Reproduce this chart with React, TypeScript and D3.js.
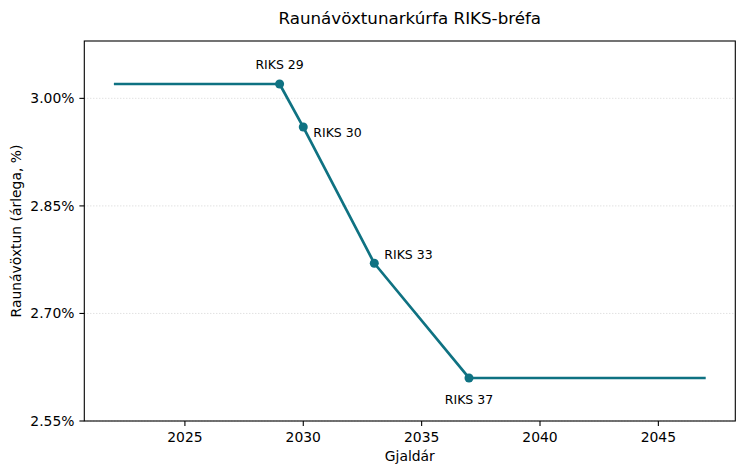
import React from "react";
import * as d3 from "d3";

const years = [2022, 2029, 2030, 2033, 2037, 2047];
const yields = [3.02, 3.02, 2.96, 2.77, 2.61, 2.61];
const bondYears = [2029, 2030, 2033, 2037];
const bondYields = [3.02, 2.96, 2.77, 2.61];
const bondLabels = ["RIKS 29", "RIKS 30", "RIKS 33", "RIKS 37"];
const xTicks = [2025, 2030, 2035, 2040, 2045];
const yTicks = [2.55, 2.7, 2.85, 3.0];

const labelOffsets: { dx: number; dy: number; anchor: string }[] = [
  { dx: 0, dy: -15, anchor: "middle" },
  { dx: 10, dy: 10, anchor: "start" },
  { dx: 10, dy: -4, anchor: "start" },
  { dx: 0, dy: 26, anchor: "middle" },
];

const W = 744;
const H = 475;
const L = 84.3;
const R = 735.3;
const T = 41;
const B = 421;
const COLOR = "#0f7282";
const FONT = "DejaVu Sans, sans-serif";

export default function App() {
  const xMin = d3.min(years)!;
  const xMax = d3.max(years)!;
  const pad = (xMax - xMin) * 0.05;
  const x = d3.scaleLinear().domain([xMin - pad, xMax + pad]).range([L, R]);
  const y = d3
    .scaleLinear()
    .domain([d3.min(yields)! - 0.06, d3.max(yields)! + 0.06])
    .range([B, T]);
  const line = d3
    .line<number>()
    .x((_, i) => x(years[i]))
    .y((d) => y(d));

  return (
    <svg
      width={W}
      height={H}
      style={{ position: "absolute", left: 0, top: 0, background: "#fff" }}
      fontFamily={FONT}
    >
      <rect x={0} y={0} width={W} height={H} fill="#fff" />
      {yTicks.map((t) => (
        <line
          key={"g" + t}
          x1={L}
          x2={R}
          y1={y(t)}
          y2={y(t)}
          stroke="#cccccc"
          strokeWidth={0.8}
          strokeDasharray="1,2"
        />
      ))}
      <path d={line(yields) || ""} fill="none" stroke={COLOR} strokeWidth={2.7} strokeLinejoin="round" />
      {bondYears.map((yr, i) => (
        <circle key={"c" + yr} cx={x(yr)} cy={y(bondYields[i])} r={4.5} fill={COLOR} />
      ))}
      {bondYears.map((yr, i) => (
        <text
          key={"l" + yr}
          x={x(yr) + labelOffsets[i].dx}
          y={y(bondYields[i]) + labelOffsets[i].dy}
          fontSize={12.5}
          textAnchor={labelOffsets[i].anchor}
          fill="#000"
        >
          {bondLabels[i]}
        </text>
      ))}
      <rect x={L} y={T} width={R - L} height={B - T} fill="none" stroke="#000" strokeWidth={1.1} />
      {xTicks.map((t) => (
        <g key={"x" + t}>
          <line x1={x(t)} x2={x(t)} y1={B} y2={B + 4.9} stroke="#000" strokeWidth={1.1} />
          <text x={x(t)} y={442.3} fontSize={13.9} textAnchor="middle" fill="#000">
            {t}
          </text>
        </g>
      ))}
      {yTicks.map((t) => (
        <g key={"y" + t}>
          <line x1={L - 4.9} x2={L} y1={y(t)} y2={y(t)} stroke="#000" strokeWidth={1.1} />
          <text
            x={L - 9.8}
            y={y(t)}
            fontSize={13.9}
            textAnchor="end"
            dominantBaseline="central"
            fill="#000"
          >
            {t.toFixed(2) + "%"}
          </text>
        </g>
      ))}
      <text x={(L + R) / 2} y={461} fontSize={13.9} textAnchor="middle" fill="#000">
        Gjaldár
      </text>
      <text
        transform={`translate(21,${(T + B) / 2}) rotate(-90)`}
        fontSize={13.9}
        textAnchor="middle"
        fill="#000"
      >
        Raunávöxtun (árlega, %)
      </text>
      <text x={(L + R) / 2} y={23.5} fontSize={16.7} textAnchor="middle" fill="#000">
        Raunávöxtunarkúrfa RIKS-bréfa
      </text>
    </svg>
  );
}
